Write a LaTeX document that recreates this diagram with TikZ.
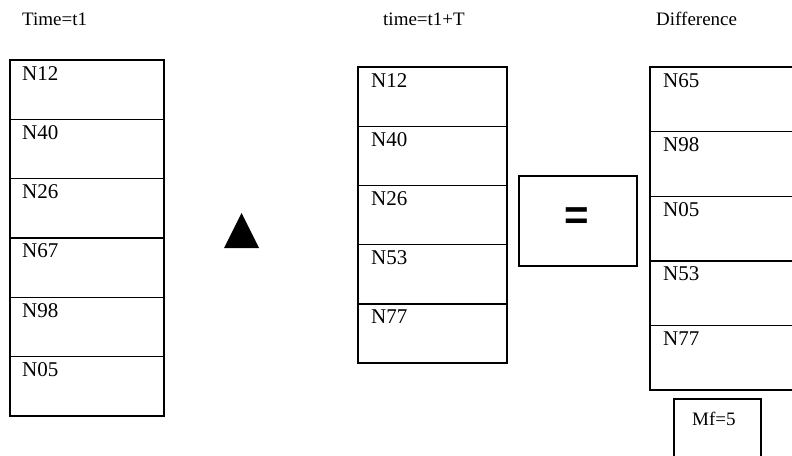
\documentclass[tikz,border=0pt]{standalone}
\usepackage{fontspec}
\setmainfont{Liberation Serif}
\newfontfamily\eqfont{Liberation Sans}
\begin{document}
\begin{tikzpicture}[x=1pt,y=-1pt,
  cell/.style={draw, line width=1.4pt, rectangle, inner sep=0pt, outer sep=0pt, anchor=north west},
  lbl/.style={anchor=base west, inner sep=0pt, font=\fontsize{21}{21}\selectfont},
  title/.style={anchor=base west, inner sep=0pt, font=\fontsize{19}{19}\selectfont}]
\useasboundingbox (0,0) rectangle (792,455);
% titles
\node[title] (t1) at (22,25) {Time=t1};
\node[title] (t2) at (383,25) {time=t1+T};
\node[title] (t3) at (656,25) {Difference};
% left column
\foreach [count=\i] \lab in {N12,N40,N26,N67,N98,N05} {
  \node[cell, minimum width=154pt, minimum height=59.3pt] (L\i) at (10,{60+(\i-1)*59.3}) {};
  \node[lbl] (Ll\i) at ([xshift=12pt,yshift=-20pt]L\i.north west) {\lab};
}
% middle column
\foreach [count=\i] \lab in {N12,N40,N26,N53,N77} {
  \node[cell, minimum width=149pt, minimum height=59.2pt] (M\i) at (358,{67+(\i-1)*59.2}) {};
  \node[lbl] (Ml\i) at ([xshift=13pt,yshift=-20pt]M\i.north west) {\lab};
}
% right column
\foreach [count=\i] \lab in {N65,N98,N05,N53,N77} {
  \node[cell, minimum width=150pt, minimum height=64.6pt] (R\i) at (650,{67+(\i-1)*64.6}) {};
  \node[lbl] (Rl\i) at ([xshift=13pt,yshift=-20pt]R\i.north west) {\lab};
}
% triangle
\fill (224,248) -- (259,248) -- (241.5,213) -- cycle;
% equals box
\node[cell, minimum width=118pt, minimum height=90pt] (eqbox) at (519,176) {};
\node[anchor=base, inner sep=0pt, font=\eqfont\bfseries\fontsize{42}{42}\selectfont] (eq) at (577,229) {=};
% Mf box
\draw[line width=1.4pt] (674,470) -- (674,399) -- (761,399) -- (761,470);
\node[title] (mf) at (692,425) {Mf=5};
\end{tikzpicture}
\end{document}
